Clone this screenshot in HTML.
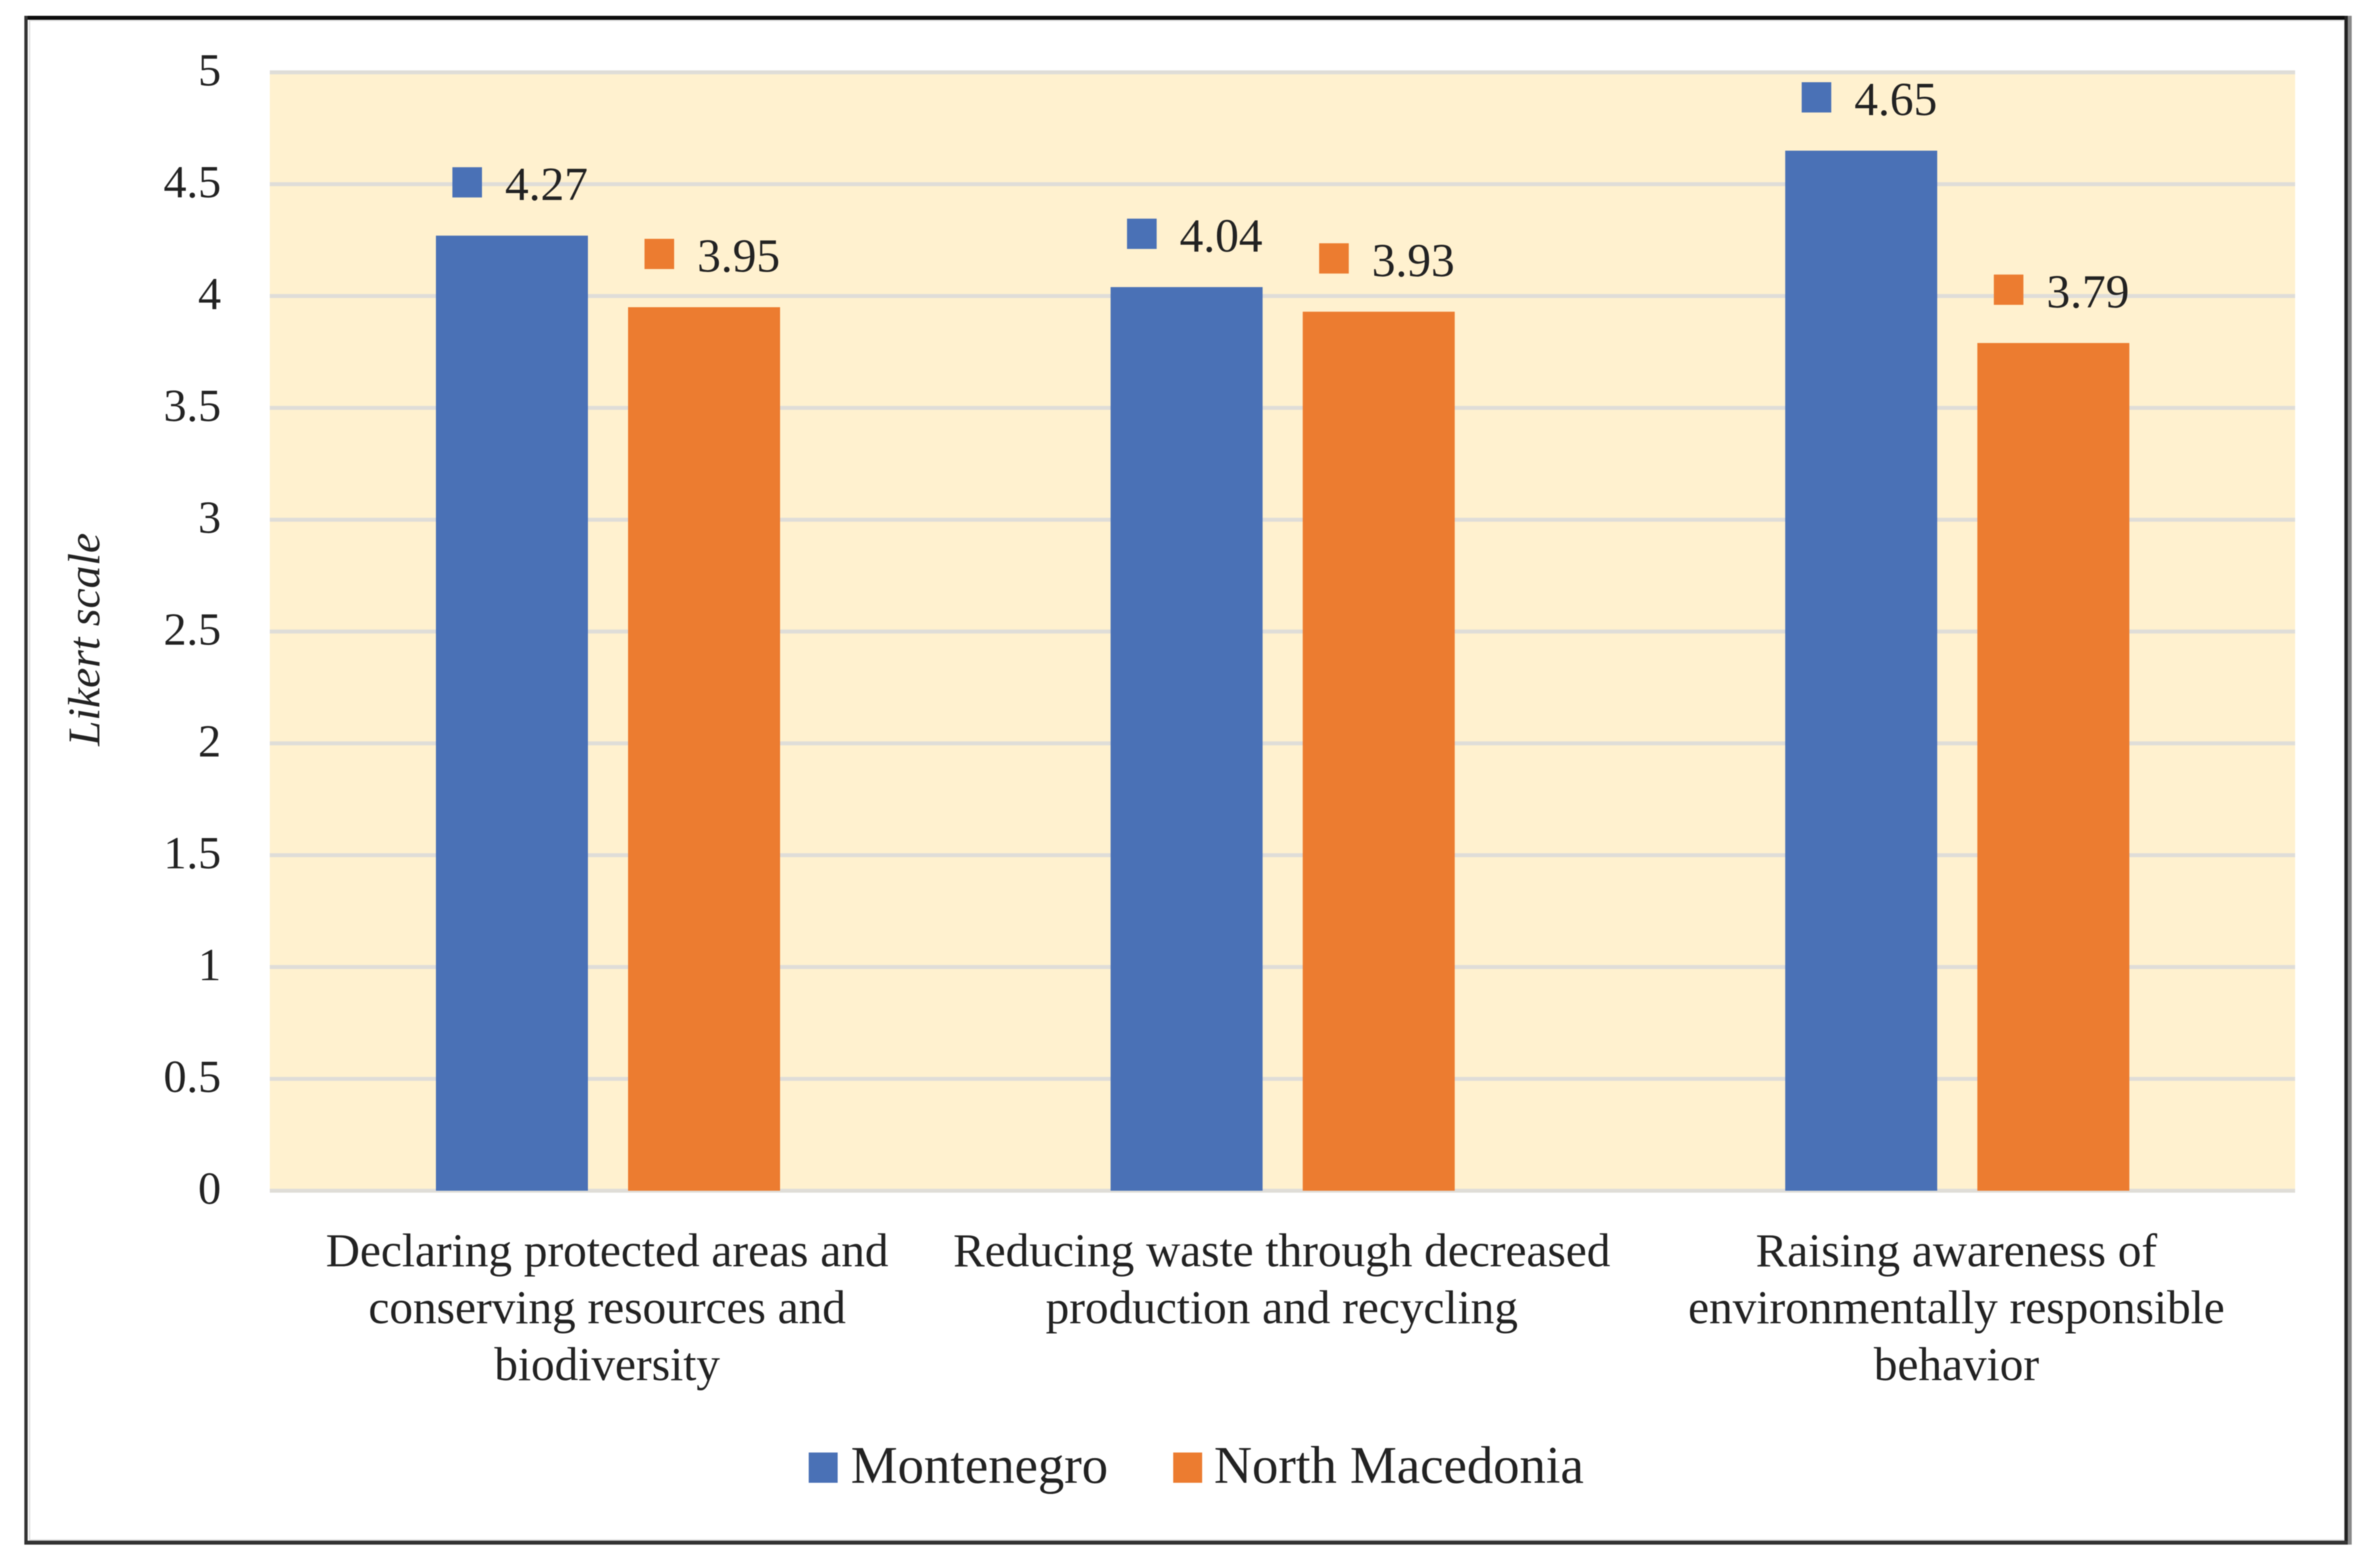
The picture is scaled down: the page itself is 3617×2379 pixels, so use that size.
<!DOCTYPE html>
<html lang="en">
<head>
<meta charset="utf-8">
<title>Likert scale chart</title>
<style>
  html, body { margin: 0; padding: 0; background: #fff; }
  svg { display: block; filter: blur(0.8px); }
  text { font-family: "Liberation Serif", serif; fill: #222; }
</style>
</head>
<body>
<svg id="chart" xmlns="http://www.w3.org/2000/svg" width="3617" height="2379" viewBox="0 0 3617 2379">
  <rect x="0" y="0" width="3617" height="2379" fill="#ffffff"/>
  <rect x="45" y="31" width="3518" height="2310" fill="none" stroke="#dddddd" stroke-width="2"/>
  <rect x="3568" y="24" width="6" height="2324" fill="#8a8a8a"/>
  <rect x="37" y="24" width="3531" height="6" fill="#0c0c0c"/>
  <rect x="37" y="24" width="5" height="2324" fill="#333333"/>
  <rect x="3563" y="24" width="5" height="2324" fill="#222222"/>
  <rect x="37" y="2342" width="3531" height="6" fill="#333333"/>
  <rect x="410" y="110" width="3078" height="1700" fill="#fff1cf"/>
  <g id="grid"></g>
  <g id="bars"></g>
  <g id="ticks"></g>
  <g id="cats"></g>
  <text transform="translate(151 972) rotate(-90)" text-anchor="middle" font-size="69" font-style="italic">Likert scale</text>
  <g>
    <rect x="1229" y="2208" width="44" height="46" fill="#4a71b6"/>
    <text x="1293" y="2254" font-size="80">Montenegro</text>
    <rect x="1783" y="2208" width="44" height="46" fill="#ec7c30"/>
    <text x="1845" y="2254" font-size="80">North Macedonia</text>
  </g>
</svg>
<script>
const categories = [
  ["Declaring protected areas and", "conserving resources and", "biodiversity"],
  ["Reducing waste through decreased", "production and recycling"],
  ["Raising awareness of", "environmentally responsible", "behavior"]
];
const montenegro = [4.27, 4.04, 4.65];
const northMacedonia = [3.95, 3.93, 3.79];
const yTickValues = [0, 0.5, 1, 1.5, 2, 2.5, 3, 3.5, 4, 4.5, 5];

const NS = "http://www.w3.org/2000/svg";
const plotLeft = 410, plotRight = 3488, plotTop = 110, plotBottom = 1810, yMax = 5;
const barWidth = 231, barGap = 61;
const yScale = v => plotBottom - (v / yMax) * (plotBottom - plotTop);
const xCenter = i => 924 + i * 1025.3;

function make(tag, attrs, parent, txt) {
  const el = document.createElementNS(NS, tag);
  for (const k in attrs) el.setAttribute(k, attrs[k]);
  if (txt !== undefined) el.textContent = txt;
  parent.appendChild(el);
  return el;
}

const gridG = document.getElementById("grid");
const ticksG = document.getElementById("ticks");
yTickValues.forEach(v => {
  const line = make("rect", { x: plotLeft, y: yScale(v) - 3, width: plotRight - plotLeft, height: 6, fill: "#dfddd8" }, gridG);
  
  
  const label = make("text", { x: 336, y: yScale(v) + 20, "text-anchor": "end", "font-size": 70 }, ticksG, String(v));
  
  
});

const barsG = document.getElementById("bars");
function drawSeries(values, offset, color, seriesName) {
  values.forEach((v, i) => {
    const left = xCenter(i) + offset;
    const top = yScale(v);
    const bar = make("rect", { x: left, y: top, width: barWidth, height: plotBottom - top, fill: color }, barsG);
    
    
    const key = make("rect", { x: left + 25, y: top - 104, width: 45, height: 46, fill: color }, barsG);
    
    
    const val = make("text", { x: left + 105, y: top - 54, "font-size": 72 }, barsG, v.toFixed(2));
    
    
  });
}
drawSeries(montenegro, -(barWidth + barGap / 2), "#4a71b6", "montenegro");
drawSeries(northMacedonia, barGap / 2, "#ec7c30", "north-macedonia");

const catsG = document.getElementById("cats");
categories.forEach((lines, i) => {
  lines.forEach((ln, j) => {
    const t = make("text", { x: xCenter(i) - 1.3, y: 1925 + j * 86.5, "text-anchor": "middle", "font-size": 71.8 }, catsG, ln);
    
    
  });
});
</script>
</body>
</html>
